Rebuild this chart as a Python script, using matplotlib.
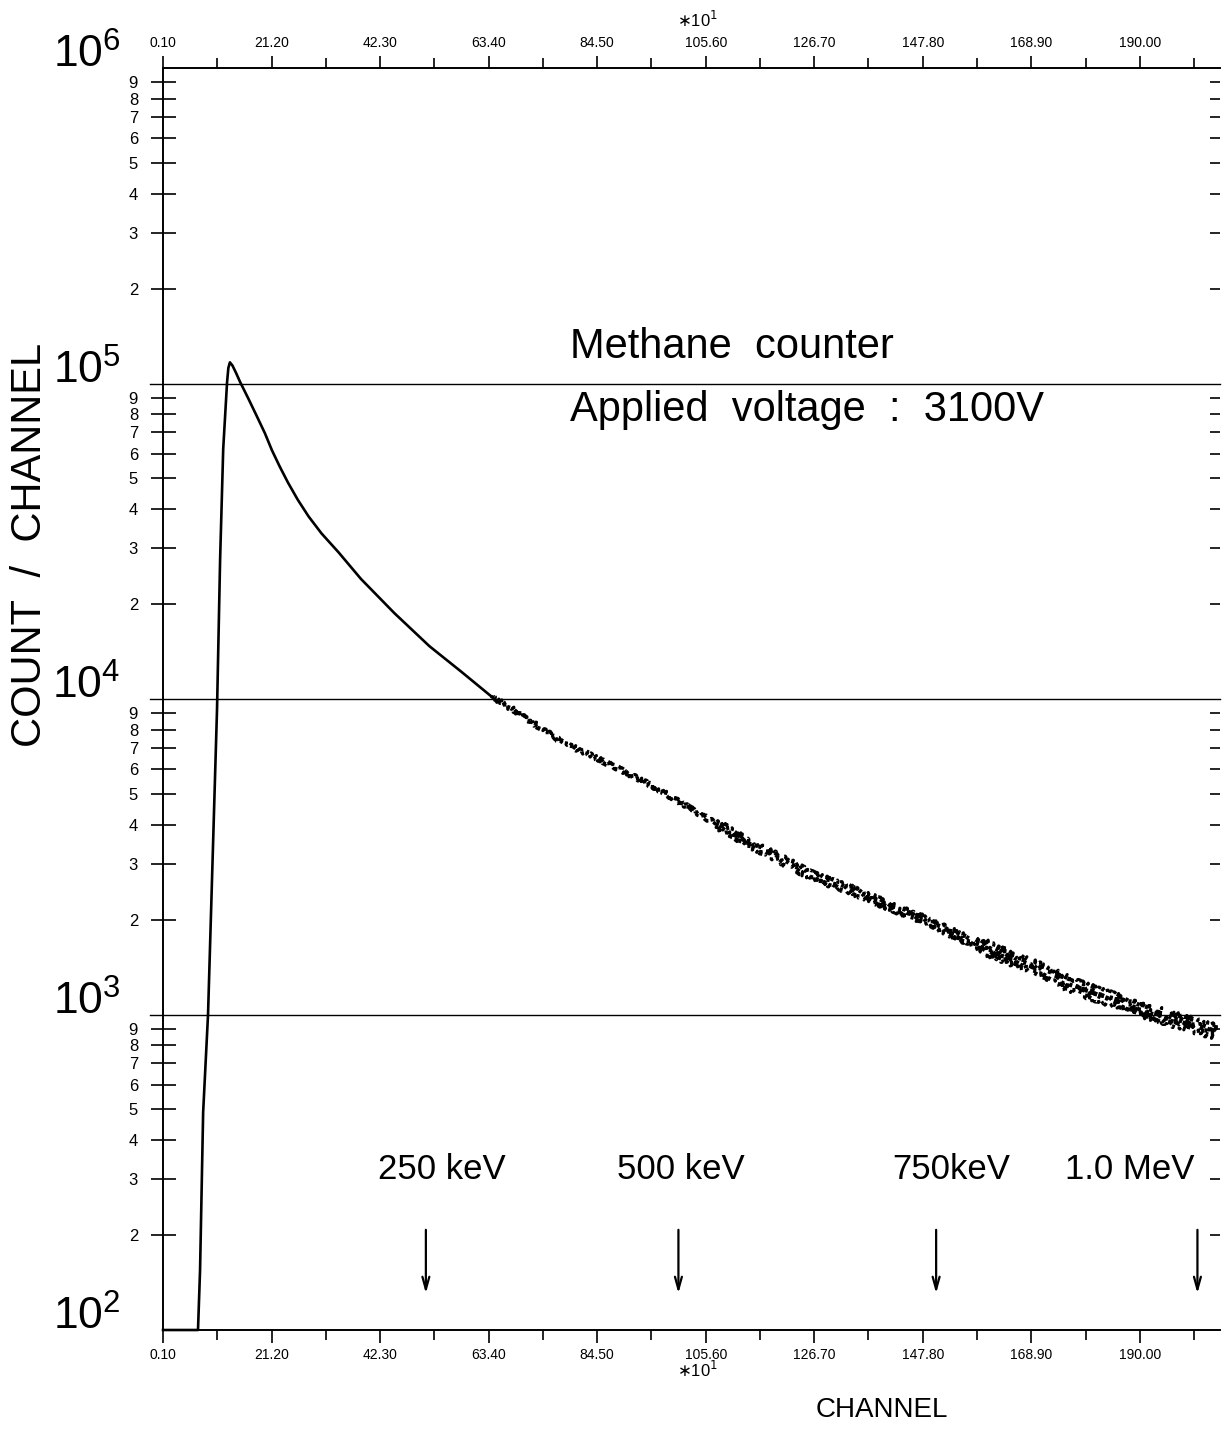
#!/usr/bin/env python
# -*- coding: utf-8 -*-

""" Pulse height spectrum of the methane proportional counter """

import matplotlib
matplotlib.use('Agg')
import matplotlib.pyplot as plt
import matplotlib.transforms as mtransforms
from matplotlib.ticker import FixedLocator, LogLocator, FuncFormatter, NullFormatter

plt.rcParams['font.family'] = ['Liberation Sans', 'DejaVu Sans']

# spectrum, channel axis in units of 10 channels
CHANNEL = [0.1, 6.9, 7.3, 7.9, 8.85, 10.6, 11.2, 11.8, 12.55, 12.8, 13.1, 13.6,
           14.3, 15.1, 16.7, 18.3, 19.9, 21.3, 22.8, 24.4, 26.3, 28.4, 30.9,
           34.2, 38.6, 45.1, 51.9, 58.1, 63.9, 68.9, 77.3, 87.6, 95.4, 100.6,
           107.1, 113.7, 120.1, 126.5, 135.1, 138.2, 147.9, 157.6, 167.3,
           177.1, 185.6, 190.1, 196.5, 205.0]
COUNTS = [100, 100, 155, 490, 1000, 9300, 27800, 62000, 101000, 112000, 116700,
          114000, 108000, 101000, 89500, 79000, 69600, 61300, 54500, 48500,
          42800, 37900, 33500, 29200, 24000, 18700, 14700, 12200, 10200, 9100,
          7360, 6130, 5290, 4710, 4070, 3520, 3110, 2740, 2440, 2320, 2000,
          1690, 1460, 1230, 1100, 1040, 965, 880]

# statistics get poor beyond this channel, tail is drawn as scattered points
TAIL_START = 63.9

# energy calibration marks
MARK_CHANNEL = [51.2, 100.3, 150.4, 201.2]
MARK_LABEL = ['250 keV', '500 keV', '750keV', '1.0 MeV']
MARK_TEXT_X = [54.3, 100.8, 153.3, 188.1]

X_TICKS = [0.1 + 21.1 * k for k in range(10)]
X_MINOR = [0.1 + 21.1 * k + 10.55 for k in range(10)]
DECADES = [2, 3, 4, 5, 6]


def leading_digit(value, pos=None):
    """ Mantissa of a log minor tick, 2..9 """
    text = '%.0e' % value
    return text[0]


def main():
    """Main function"""
    fig = plt.figure(figsize=(12.23, 14.38), dpi=100)
    ax = fig.add_axes([0.1333, 0.0751, 0.8643, 0.8776])
    ax.set_yscale('log')
    ax.set_xlim(0.1, 205.6)
    ax.set_ylim(100, 1e6)

    head = [(c, n) for c, n in zip(CHANNEL, COUNTS) if c <= TAIL_START]
    tail = [(c, n) for c, n in zip(CHANNEL, COUNTS) if c >= TAIL_START]
    ax.plot([p[0] for p in head], [p[1] for p in head], color='black',
            lw=1.9, solid_joinstyle='round', clip_on=False)
    # tail in three pieces, scatter grows with channel number
    pieces = [(63.9, 110.0, 2.5), (107.1, 160.0, 5.0), (157.6, 206.0, 8.0)]
    for lo, hi, wob in pieces:
        seg = [p for p in tail if lo <= p[0] <= hi]
        for off, rnd in [(0, 24), (1.1, 31)]:
            line, = ax.plot([p[0] for p in seg], [p[1] for p in seg],
                            color='black', lw=2.2, ls=(off, (1.4, 1.3)))
            line.set_sketch_params(scale=wob, length=5, randomness=rnd)

    for v in [1e3, 1e4, 1e5]:
        ax.axhline(v, xmin=-0.012, xmax=1.0, color='black', lw=1.0,
                   clip_on=False)

    ax.spines['right'].set_visible(False)
    for side in ['left', 'top', 'bottom']:
        ax.spines[side].set_linewidth(1.4)

    ax.xaxis.set_major_locator(FixedLocator(X_TICKS))
    ax.xaxis.set_minor_locator(FixedLocator(X_MINOR))
    ax.xaxis.set_major_formatter(FuncFormatter(lambda v, p: '%.2f' % v))
    ax.tick_params(axis='x', which='both', top=True, labeltop=True,
                   direction='out', labelsize=10, pad=4, width=1.2)
    ax.tick_params(axis='x', which='major', length=9)
    ax.tick_params(axis='x', which='minor', length=7)

    ax.yaxis.set_major_locator(LogLocator(base=10, numticks=10))
    ax.yaxis.set_major_formatter(NullFormatter())
    ax.yaxis.set_minor_locator(LogLocator(base=10, subs=range(2, 10),
                                          numticks=40))
    ax.yaxis.set_minor_formatter(FuncFormatter(leading_digit))
    ax.tick_params(axis='y', which='major', length=0)
    ax.tick_params(axis='y', which='minor', direction='inout', length=18,
                   width=1.2, labelsize=12, pad=9)

    right = ax.secondary_yaxis('right')
    right.spines['right'].set_visible(False)
    right.yaxis.set_major_locator(FixedLocator([]))
    right.yaxis.set_minor_locator(LogLocator(base=10, subs=range(2, 10),
                                             numticks=40))
    right.yaxis.set_minor_formatter(NullFormatter())
    right.tick_params(which='minor', direction='in', length=7, width=1.2)

    trans = mtransforms.blended_transform_factory(ax.transAxes, ax.transData)
    for k in DECADES:
        ax.text(-0.04, 10 ** k, r'$\mathregular{10^{%d}}$' % k,
                transform=trans, ha='right', va='baseline', fontsize=32,
                fontweight='light')

    for ch, lab, tx in zip(MARK_CHANNEL, MARK_LABEL, MARK_TEXT_X):
        ax.annotate('', xy=(ch, 128), xytext=(ch, 212),
                    arrowprops=dict(arrowstyle='->,head_length=0.9,head_width=0.25',
                                    lw=1.6, color='black'))
        ax.text(tx, 322, lab, ha='center', va='center', fontsize=25)

    ax.text(0.385, 0.779, 'Methane  counter', transform=ax.transAxes,
            fontsize=30, va='center', ha='left')
    ax.text(0.385, 0.729, 'Applied  voltage  :  3100V', transform=ax.transAxes,
            fontsize=30, va='center', ha='left')

    fig.text(697 / 1223, 1 - 20 / 1438, r'$\ast$10$^{1}$', ha='center',
             va='center', fontsize=12)
    fig.text(697 / 1223, 1 - 1370 / 1438, r'$\ast$10$^{1}$', ha='center',
             va='center', fontsize=12)
    fig.text(30 / 1223, 1 - 545 / 1438, 'COUNT  /  CHANNEL', rotation=90,
             ha='center', va='center', fontsize=30, fontweight='light')
    fig.text(882 / 1223, 1 - 1410 / 1438, 'CHANNEL', ha='center', va='center',
             fontsize=20, fontweight='light')

    fig.savefig('out.png', dpi=100)
    plt.close('all')


if __name__ == '__main__':
    main()
